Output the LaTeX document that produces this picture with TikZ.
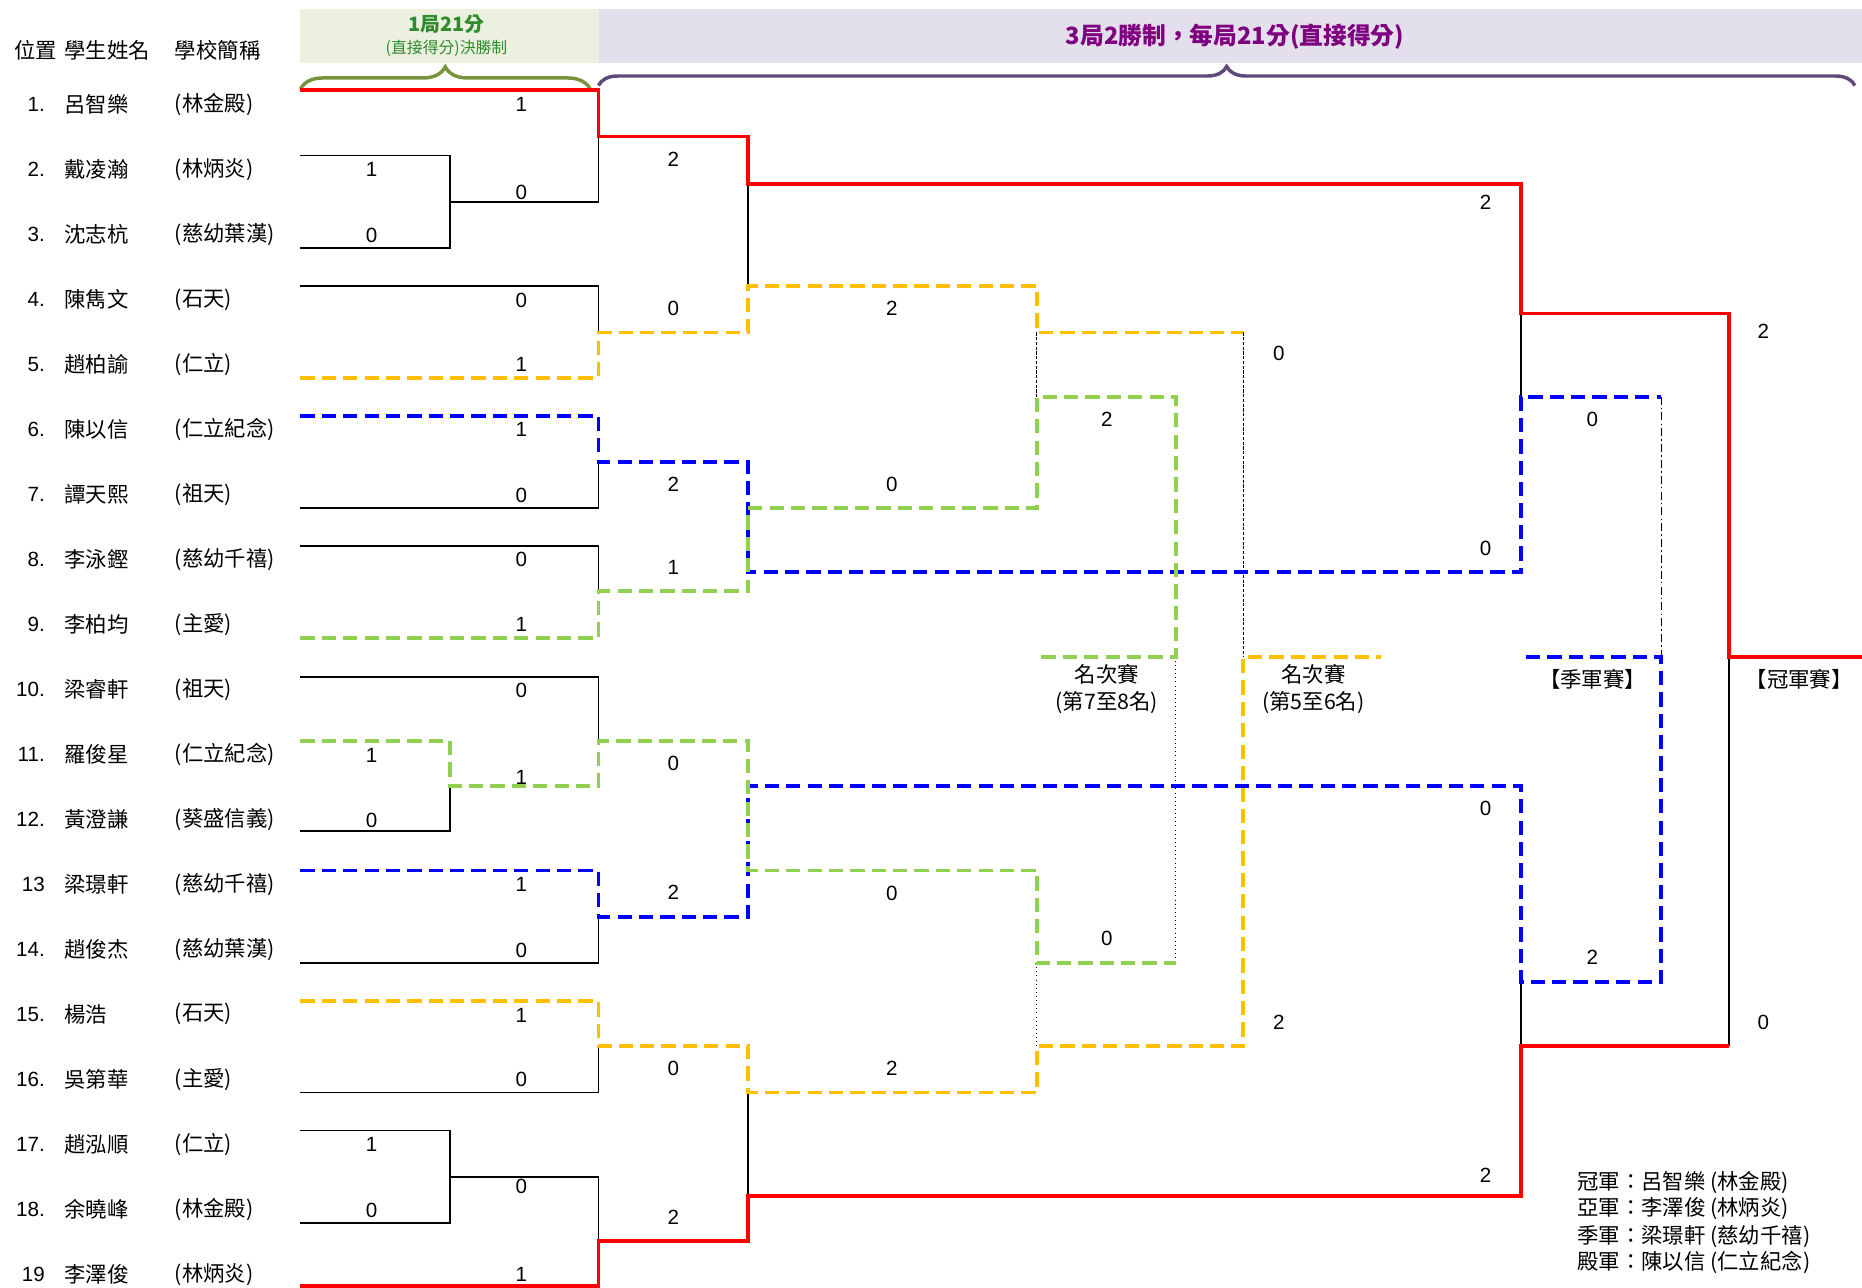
\documentclass[tikz,border=0pt]{standalone}
\usepackage{fontspec}
\setmainfont{Noto Sans CJK TC}
\setsansfont{Liberation Sans}
\usetikzlibrary{decorations.pathreplacing}
\definecolor{ylw}{HTML}{FFC000}
\definecolor{grn}{HTML}{92D050}
\definecolor{blu}{HTML}{0000FF}
\definecolor{hdgreen}{HTML}{EBF1DE}
\definecolor{hdpurple}{HTML}{E4DFEC}
\definecolor{brgreen}{HTML}{77933C}
\definecolor{brpurple}{HTML}{604A7B}
\definecolor{txgreen}{HTML}{2E8B2E}
\definecolor{txpurple}{HTML}{7F007F}

\begin{document}
\begin{tikzpicture}[x=0.75pt,y=-0.75pt,
  win line/.style={draw=red,line width=2.4pt},
  plain line/.style={draw=black,line width=1.1pt},
  yellow line/.style={draw=ylw,line width=2.4pt,dash pattern=on 9pt off 4.5pt},
  blue line/.style={draw=blu,line width=2.4pt,dash pattern=on 9pt off 4.5pt},
  green line/.style={draw=grn,line width=2.4pt,dash pattern=on 9pt off 4.5pt},
  thin dash/.style={draw=black,line width=0.6pt,dash pattern=on 2pt off 1pt},
  thin dot/.style={draw=black,line width=0.6pt,dotted},
  dash dot/.style={draw=black,line width=0.6pt,dash pattern=on 5pt off 2pt on 1pt off 2pt},
  score/.style={font=\sffamily\fontsize{13}{15}\selectfont,inner sep=0pt},
  name text/.style={font=\fontsize{13.5}{15}\selectfont,inner sep=0pt},
  round label/.style={font=\fontsize{13.5}{17}\selectfont,align=center,inner sep=0pt}]
\useasboundingbox (0,0) rectangle (1568,1083.8);

% header
\fill[hdgreen] (253,8) rectangle (504,53);
\fill[hdpurple] (504,8) rectangle (1568,53);
\node[font=\bfseries\fontsize{12.5}{14}\selectfont,text=txgreen,inner sep=0pt] (h1) at (376,20) {1局21分};
\node[font=\fontsize{10}{12}\selectfont,text=txgreen,inner sep=0pt] (h2) at (376,41) {(直接得分)決勝制};
\node[font=\bfseries\fontsize{15}{17}\selectfont,text=txpurple,inner sep=0pt] (h3) at (1040,31) {3局2勝制，每局21分(直接得分)};
\draw[brgreen,line width=2.2pt,decorate,decoration={brace,amplitude=14pt}] (253,75) -- (497,75);
\draw[brpurple,line width=2.2pt,decorate,decoration={brace,amplitude=12pt}] (504,72) -- (1562,72);

\node[name text,anchor=west] (c1) at (12,42) {位置};
\node[name text,anchor=west] (c2) at (54,42) {學生姓名};
\node[name text,anchor=west] (c3) at (147,42) {學校簡稱};

% players
\foreach \n/\nm/\sch [count=\i] in {1./呂智樂/林金殿, 2./戴凌瀚/林炳炎, 3./沈志杭/慈幼葉漢,
    4./陳雋文/石天, 5./趙柏諭/仁立, 6./陳以信/仁立紀念, 7./譚天熙/祖天, 8./李泳鏗/慈幼千禧,
    9./李柏均/主愛, 10./梁睿軒/祖天, 11./羅俊星/仁立紀念, 12./黃澄謙/葵盛信義,
    13/梁璟軒/慈幼千禧, 14./趙俊杰/慈幼葉漢, 15./楊浩/石天, 16./吳第華/主愛,
    17./趙泓順/仁立, 18./余曉峰/林金殿, 19/李澤俊/林炳炎} {
  \node[score,anchor=east] (n\i) at (38,{88+(\i-1)*54.72}) {\n};
  \node[name text,anchor=west] (p\i) at (54,{88+(\i-1)*54.72}) {\nm};
  \node[name text,anchor=west] (s\i) at (147,{88+(\i-1)*54.72}) {(\sch)};
}

% plain lines
\draw[plain line] (253,131) -- (379,131) -- (379,209) -- (253,209) (379,170) -- (504,170) -- (504,115);
\draw[plain line] (253,241) -- (504,241) -- (504,280);
\draw[plain line] (253,428) -- (504,428) -- (504,389);
\draw[plain line] (253,460) -- (504,460) -- (504,498);
\draw[plain line] (630,155) -- (630,241);
\draw[plain line] (253,570) -- (504,570) -- (504,624);
\draw[plain line] (253,700) -- (379,700) -- (379,662);
\draw[plain line] (253,811) -- (504,811) -- (504,772);
\draw[plain line] (253,920) -- (504,920) -- (504,881);
\draw[plain line] (253,952) -- (379,952) -- (379,1030) -- (253,1030) (379,991) -- (504,991) -- (504,1045);
\draw[plain line] (630,920) -- (630,1007);
\draw[plain line] (1281,264) -- (1281,334);
\draw[plain line] (1281,827) -- (1281,881);
\draw[plain line] (1456,553) -- (1456,881);

% thin links
\draw[thin dash] (873,280) -- (873,334);
\draw[thin dash] (1047,280) -- (1047,553);
\draw[thin dot] (990,553) -- (990,811);
\draw[thin dot] (873,811) -- (873,881);
\draw[dash dot] (1399,334) -- (1399,553);

% coloured paths
\draw[yellow line] (253,318) -- (504,318) -- (504,280) -- (630,280) -- (630,241) -- (873,241) -- (873,280) -- (1047,280);
\draw[yellow line] (253,843) -- (504,843) -- (504,881) -- (630,881) -- (630,920) -- (873,920) -- (873,881) -- (1047,881) -- (1047,553) -- (1163,553);
\draw[blue line] (253,350) -- (504,350) -- (504,389) -- (630,389) -- (630,482) -- (1281,482) -- (1281,334) -- (1399,334);
\draw[blue line] (253,733) -- (504,733) -- (504,772) -- (630,772) -- (630,662) -- (1281,662) -- (1281,827) -- (1399,827) -- (1399,553) -- (1285,553);
\draw[green line] (253,537) -- (504,537) -- (504,498) -- (630,498) -- (630,428) -- (873,428) -- (873,334) -- (990,334) -- (990,553) -- (873,553);
\draw[green line] (253,624) -- (379,624) -- (379,662) -- (504,662) -- (504,624) -- (630,624) -- (630,733) -- (873,733) -- (873,811) -- (990,811);
\draw[win line] (253,76) -- (504,76) -- (504,115) -- (630,115) -- (630,155) -- (1281,155) -- (1281,264) -- (1456,264) -- (1456,553) -- (1568,553);
\draw[win line] (253,1083) -- (504,1083) -- (504,1045) -- (630,1045) -- (630,1007) -- (1281,1007) -- (1281,881) -- (1456,881);

% scores
\foreach \x/\y/\v [count=\k] in {439/88/1, 313/143/1, 313/198/0, 439/162/0, 567/134/2,
    439/253/0, 439/307/1, 567/260/0, 751/260/2, 1251/170/2, 1077/298/0,
    439/362/1, 439/417/0, 567/408/2, 439/471/0, 439/526/1, 567/478/1,
    751/408/0, 932/353/2, 1251/462/0, 1341/353/0, 1485/279/2,
    439/581/0, 313/636/1, 313/691/0, 439/655/1, 567/643/0,
    439/745/1, 439/800/0, 567/751/2, 1251/681/0, 751/752/0, 932/790/0,
    439/855/1, 439/909/0, 567/900/0, 313/964/1, 313/1019/0, 439/999/0,
    439/1073/1, 567/1025/2, 751/900/2, 1077/861/2, 1251/990/2,
    1341/806/2, 1485/861/0}
  \node[score] (sc\k) at (\x,\y) {\v};

% round labels
\node[round label] (r78) at (932,580) {名次賽\\(第7至8名)};
\node[round label] (r56) at (1106,580) {名次賽\\(第5至6名)};
\node[round label] (r34) at (1341,572) {【季軍賽】};
\node[round label] (r12) at (1515,572) {【冠軍賽】};

% result
\node[name text,anchor=west] (w1) at (1328,996) {冠軍：呂智樂 (林金殿)};
\node[name text,anchor=west] (w2) at (1328,1018) {亞軍：李澤俊 (林炳炎)};
\node[name text,anchor=west] (w3) at (1328,1041) {季軍：梁璟軒 (慈幼千禧)};
\node[name text,anchor=west] (w4) at (1328,1063) {殿軍：陳以信 (仁立紀念)};
\end{tikzpicture}
\end{document}
